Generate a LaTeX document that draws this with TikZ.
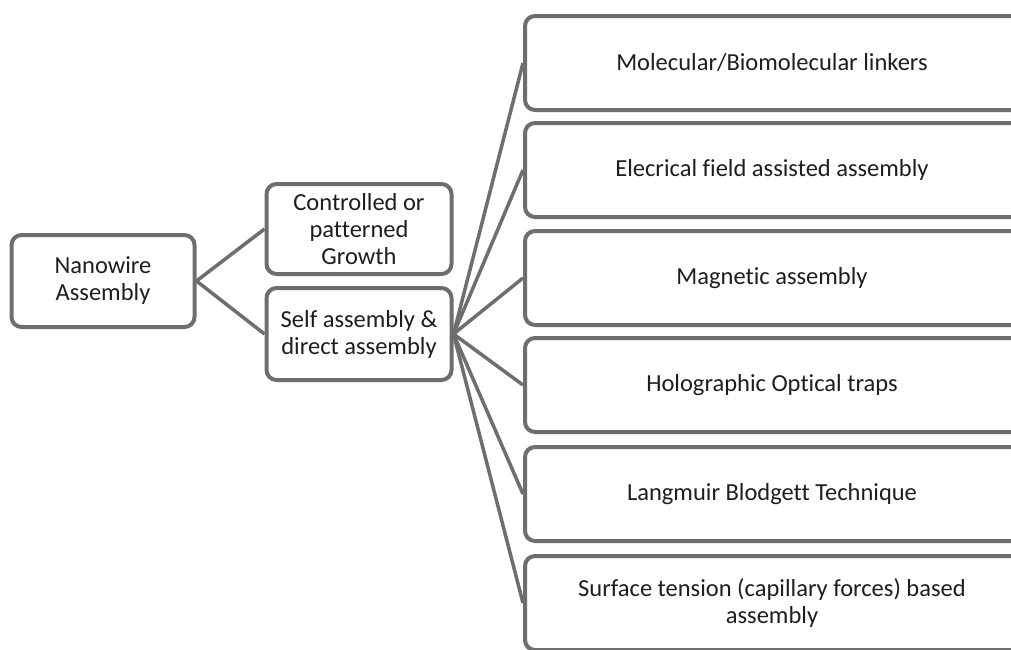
\documentclass[tikz,border=0pt]{standalone}
\usepackage{fontspec}
\setmainfont{Carlito}[Ligatures=CommonOff]
\definecolor{boxgray}{RGB}{110,110,110}
\definecolor{txt}{RGB}{30,30,30}
\newcommand{\rtext}[1]{\parbox[c]{494pt}{\centering #1}\hspace*{40pt}}
\tikzset{
  box/.style={draw=boxgray, line width=4pt, rounded corners=10pt, fill=white,
    align=center, text=txt, inner sep=0pt, font=\fontsize{24.5}{27}\selectfont},
  rbox/.style={box, minimum height=94pt},
  conn/.style={draw=boxgray, line width=3.5pt}
}
\begin{document}
\begin{tikzpicture}[x=1pt,y=-1pt]
\useasboundingbox (0,0) rectangle (1011,649);
\clip (0,0) rectangle (1011,649);
\fill[white] (0,0) rectangle (1011,649);
% nodes
\node[box, minimum width=183pt, minimum height=92pt] (nano) at (103,281) {Nanowire\\Assembly};
\node[box, minimum width=185pt, minimum height=90pt] (ctrl) at (359,229) {Controlled or\\patterned\\Growth};
\node[box, minimum width=185pt, minimum height=92pt] (self) at (359,334) {Self assembly \&\\direct assembly};
\node[rbox, anchor=west] (r1) at (523,63) {\rtext{Molecular/Biomolecular linkers}};
\node[rbox, anchor=west] (r2) at (523,170) {\rtext{Elecrical field assisted assembly}};
\node[rbox, anchor=west] (r3) at (523,278) {\rtext{Magnetic assembly}};
\node[rbox, anchor=west] (r4) at (523,385) {\rtext{Holographic Optical traps}};
\node[rbox, anchor=west] (r5) at (523,494) {\rtext{Langmuir Blodgett Technique}};
\node[rbox, anchor=west] (r6) at (523,603) {\rtext{Surface tension (capillary forces) based\\assembly}};
% connectors
\draw[conn] (nano.east) -- (ctrl.west);
\draw[conn] (nano.east) -- (self.west);
\foreach \r in {r1,r2,r3,r4,r5,r6}{
  \draw[conn] (self.east) -- (\r.west);
}
\end{tikzpicture}
\end{document}
